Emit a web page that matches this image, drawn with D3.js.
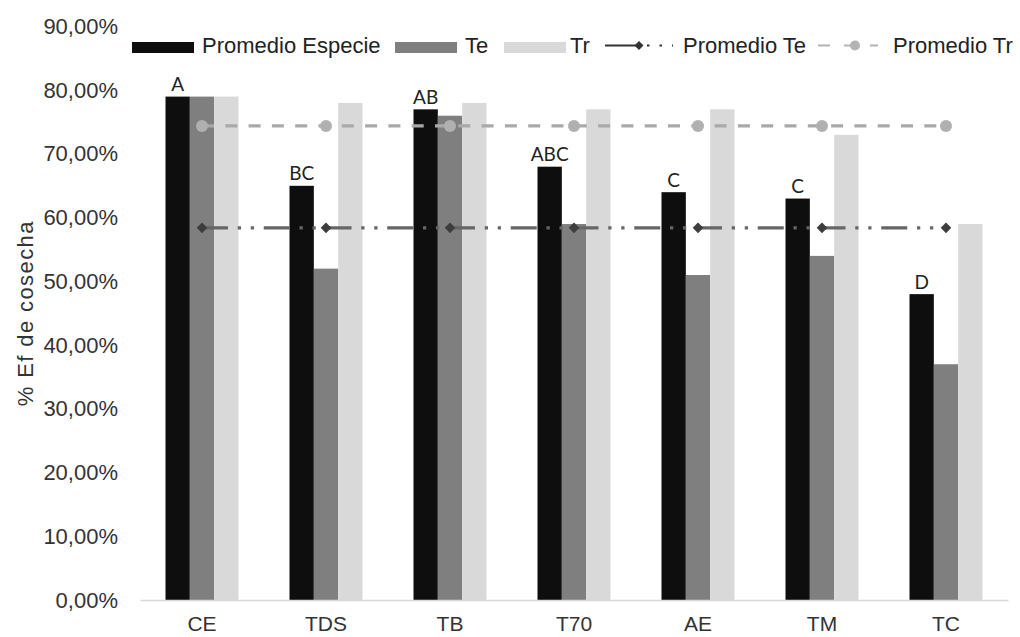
<!DOCTYPE html>
<html>
<head>
<meta charset="utf-8">
<script src="https://cdn.jsdelivr.net/npm/d3@7"></script>
<style>
  html, body { margin: 0; padding: 0; background: #fff; }
  svg { display: block; }
  text { font-family: "Liberation Sans", Arial, sans-serif; }
</style>
</head>
<body>
<svg id="chart" width="1020" height="637"></svg>
<script>
// Harvest efficiency (% Ef de cosecha) per treatment
const categories = ["CE", "TDS", "TB", "T70", "AE", "TM", "TC"];
const promedioEspecie = [0.79, 0.65, 0.77, 0.68, 0.64, 0.63, 0.48];
const te = [0.79, 0.52, 0.76, 0.59, 0.51, 0.54, 0.37];
const tr = [0.79, 0.78, 0.78, 0.77, 0.77, 0.73, 0.59];
const promedioTe = [0.584, 0.584, 0.584, 0.584, 0.584, 0.584, 0.584];
const promedioTr = [0.744, 0.744, 0.744, 0.744, 0.744, 0.744, 0.744];
const groupLetters = ["A", "BC", "AB", "ABC", "C", "C", "D"];
const yTickValues = [0, 0.1, 0.2, 0.3, 0.4, 0.5, 0.6, 0.7, 0.8, 0.9];
const yTickLabels = ["0,00%", "10,00%", "20,00%", "30,00%", "40,00%", "50,00%", "60,00%", "70,00%", "80,00%", "90,00%"];
const barSeries = ["Promedio Especie", "Te", "Tr"];
const barColors = ["#0e0e0e", "#7f7f7f", "#d9d9d9"];

const svg = d3.select("#chart");
const plotLeft = 140, plotRight = 1008, plotBottom = 600, plotTop = 26.5;
const groupWidth = 73;

const x = d3.scaleBand().domain(categories).range([plotLeft, plotRight]).paddingInner(0).paddingOuter(0);
const xs = d3.scaleBand().domain(barSeries).range([0, groupWidth]).padding(0);
const y = d3.scaleLinear().domain([0, 0.9]).range([plotBottom, plotTop]);
const groupOffset = (x.bandwidth() - groupWidth) / 2;
const cx = c => x(c) + x.bandwidth() / 2;

// Y axis (labels only)
const yAxis = svg.append("g")
  .attr("transform", `translate(${plotLeft},0)`)
  .call(d3.axisLeft(y).tickValues(yTickValues)
    .tickFormat((d, i) => yTickLabels[i]).tickSize(0).tickPadding(22));
yAxis.select(".domain").remove();
yAxis.selectAll("text").attr("font-size", 22).attr("fill", "#333")
  .style("font-family", '"Liberation Sans", Arial, sans-serif');

// Y axis title
svg.append("text")
  .attr("transform", `translate(33,${(plotTop + plotBottom) / 2}) rotate(-90)`)
  .attr("text-anchor", "middle")
  .attr("font-size", 22)
  .attr("letter-spacing", 1.4)
  .attr("fill", "#333")
  .text("% Ef de cosecha");

// Bars
const seriesValues = [promedioEspecie, te, tr];
seriesValues.forEach((vals, si) => {
  svg.append("g").selectAll("rect")
    .data(categories.map((c, i) => ({ c, v: vals[i] })))
    .join("rect")
    .attr("x", d => x(d.c) + groupOffset + xs(barSeries[si]))
    .attr("width", xs.bandwidth())
    .attr("y", d => y(d.v))
    .attr("height", d => y(0) - y(d.v))
    .attr("fill", barColors[si]);
});

// X axis
const xAxis = svg.append("g")
  .attr("transform", `translate(0,${plotBottom})`)
  .call(d3.axisBottom(x).tickSize(0));
xAxis.select(".domain").attr("stroke", "#d9d9d9").attr("stroke-width", 1.5);
xAxis.selectAll("text").attr("font-size", 21).attr("fill", "#333")
  .attr("dy", null).attr("y", 31)
  .style("font-family", '"Liberation Sans", Arial, sans-serif');

// Letters over the species-average bars
svg.append("g").selectAll("text")
  .data(categories.map((c, i) => ({ c, v: promedioEspecie[i], t: groupLetters[i] })))
  .join("text")
  .attr("x", d => x(d.c) + groupOffset + xs("Promedio Especie") + xs.bandwidth() / 2)
  .attr("y", d => y(d.v) - 5.5)
  .attr("text-anchor", "middle")
  .attr("font-size", 19)
  .attr("fill", "#222")
  .style("font-family", "Lato, 'Open Sans', sans-serif")
  .text(d => d.t);

// Average lines
const teDash = "26,9.75,3.25,9.75,3.25,9.75";
const trDash = "12,11.3";
const line = d3.line().x(d => cx(d.c)).y(d => y(d.v));
const teData = categories.map((c, i) => ({ c, v: promedioTe[i] }));
const trData = categories.map((c, i) => ({ c, v: promedioTr[i] }));

svg.append("path").datum(teData).attr("d", line)
  .attr("fill", "none").attr("stroke", "#666").attr("stroke-width", 3.25)
  .attr("stroke-dasharray", teDash);
svg.append("g").selectAll("path").data(teData).join("path")
  .attr("d", d3.symbol(d3.symbolSquare, 56))
  .attr("transform", d => `translate(${cx(d.c)},${y(d.v)}) rotate(45)`)
  .attr("fill", "#3d3d3d");

svg.append("path").datum(trData).attr("d", line)
  .attr("fill", "none").attr("stroke", "#a9a9a9").attr("stroke-width", 3.3)
  .attr("stroke-dasharray", trDash);
svg.append("g").selectAll("circle").data(trData).join("circle")
  .attr("cx", d => cx(d.c)).attr("cy", d => y(d.v)).attr("r", 6)
  .attr("fill", "#b0b0b0");

// Legend
const legendY = 47.5;
const legendBase = 53;
const legend = svg.append("g");
const rectItems = [
  { name: "Promedio Especie", color: barColors[0], x0: 132, tx: 202 },
  { name: "Te", color: barColors[1], x0: 395, tx: 465 },
  { name: "Tr", color: barColors[2], x0: 504, tx: 570 }
];
rectItems.forEach(it => {
  legend.append("rect").attr("x", it.x0).attr("y", legendY - 5.5)
    .attr("width", 62).attr("height", 11).attr("fill", it.color);
  legend.append("text").attr("x", it.tx).attr("y", legendBase)
    .attr("font-size", 22).attr("fill", "#222").text(it.name);
});
// Promedio Te sample
legend.append("line").attr("x1", 605).attr("x2", 673).attr("y1", legendY - 2).attr("y2", legendY - 2)
  .attr("stroke", "#333").attr("stroke-width", 2.2).attr("stroke-dasharray", "34,8,2.5,10,2.5,10");
legend.append("path").attr("d", d3.symbol(d3.symbolSquare, 40))
  .attr("transform", `translate(639,${legendY - 2}) rotate(45)`).attr("fill", "#333");
legend.append("text").attr("x", 683).attr("y", legendBase)
  .attr("font-size", 22).attr("fill", "#222").text("Promedio Te");
// Promedio Tr sample
legend.append("line").attr("x1", 818).attr("x2", 878).attr("y1", legendY - 2).attr("y2", legendY - 2)
  .attr("stroke", "#b3b3b3").attr("stroke-width", 2.2).attr("stroke-dasharray", "12,14");
legend.append("circle").attr("cx", 855).attr("cy", legendY - 2).attr("r", 5)
  .attr("fill", "#b3b3b3");
legend.append("text").attr("x", 893).attr("y", legendBase)
  .attr("font-size", 22).attr("fill", "#222").text("Promedio Tr");
</script>
</body>
</html>
